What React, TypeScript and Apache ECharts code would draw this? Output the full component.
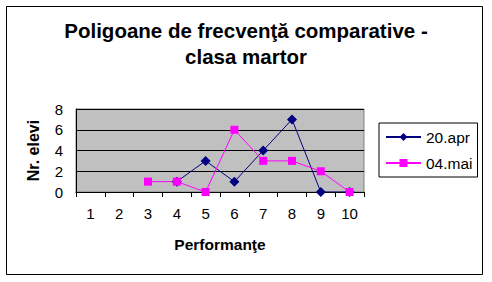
import React, { useEffect, useRef } from "react";
import * as echarts from "echarts";

const categories = ["1", "2", "3", "4", "5", "6", "7", "8", "9", "10"];
const apr20: (number | null)[] = [null, null, null, 1, 3, 1, 4, 7, 0, 0];
const mai04: (number | null)[] = [null, null, 1, 1, 0, 6, 3, 3, 2, 0];
const seriesNames = ["20.apr", "04.mai"];
const titleText = "Poligoane de frecvenţă comparative -\nclasa martor";
const xName = "Performanţe";
const yName = "Nr. elevi";

export default function App() {
  const ref = useRef<HTMLDivElement>(null);
  useEffect(() => {
    document.body.style.margin = "0";
    const chart = echarts.init(ref.current!, null, { renderer: "svg" });
    const font = "Arial, 'Liberation Sans', sans-serif";
    chart.setOption({
      animation: false,
      backgroundColor: "#ffffff",
      textStyle: { fontFamily: font, color: "#000" },
      title: {
        text: titleText,
        left: "center",
        top: 12,
        textStyle: { fontFamily: font, fontSize: 20.5, fontWeight: "bold", color: "#000", lineHeight: 26 },
      },
      graphic: [
        {
          type: "rect",
          shape: { x: 6.5, y: 6.5, width: 476, height: 268 },
          style: { fill: "none", stroke: "#000", lineWidth: 1 },
          z: 100,
        },
      ],
      legend: {
        orient: "vertical",
        left: 379,
        top: 123,
        width: 99,
        padding: [6, 5, 6, 6],
        itemGap: 10,
        itemWidth: 35,
        itemHeight: 10,
        borderColor: "#000",
        borderWidth: 1,
        textStyle: { fontFamily: font, fontSize: 15.5, color: "#000" },
        data: seriesNames,
      },
      grid: {
        left: 76,
        top: 109,
        width: 288,
        height: 83,
        show: true,
        backgroundColor: "#C0C0C0",
        borderColor: "#808080",
        borderWidth: 1,
      },
      xAxis: {
        type: "category",
        data: categories,
        boundaryGap: true,
        name: xName,
        nameLocation: "middle",
        nameGap: 44,
        nameTextStyle: { fontFamily: font, fontSize: 15.5, fontWeight: "bold", color: "#000" },
        axisLine: { lineStyle: { color: "#000", width: 1 } },
        axisTick: { show: true, length: 5, lineStyle: { color: "#000" } },
        axisLabel: { fontFamily: font, fontSize: 15, color: "#000", margin: 14 },
        splitLine: { show: false },
      },
      yAxis: {
        type: "value",
        min: 0,
        max: 8,
        interval: 2,
        name: yName,
        nameLocation: "middle",
        nameGap: 35,
        nameTextStyle: { fontFamily: font, fontSize: 16, fontWeight: "bold", color: "#000" },
        axisLine: { show: true, lineStyle: { color: "#000", width: 1 } },
        axisTick: { show: false },
        axisLabel: { fontFamily: font, fontSize: 15, color: "#000", margin: 13 },
        splitLine: { show: true, lineStyle: { color: "#000", width: 1 } },
      },
      series: [
        {
          name: seriesNames[0],
          type: "line",
          data: apr20,
          symbol: "diamond",
          symbolSize: 10,
          color: "#000080",
          lineStyle: { color: "#000080", width: 1 },
          itemStyle: { color: "#000080" },
        },
        {
          name: seriesNames[1],
          type: "line",
          data: mai04,
          symbol: "rect",
          symbolSize: 8,
          color: "#FF00FF",
          lineStyle: { color: "#FF00FF", width: 1 },
          itemStyle: { color: "#FF00FF" },
        },
      ],
    });
    return () => chart.dispose();
  }, []);
  return <div ref={ref} style={{ width: 492, height: 282 }} />;
}
